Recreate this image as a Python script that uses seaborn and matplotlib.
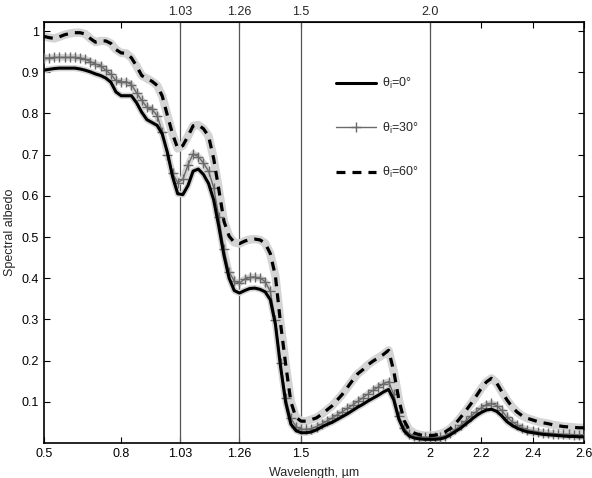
import numpy as np
import pandas as pd
import seaborn as sns
import matplotlib.pyplot as plt
from matplotlib.ticker import FormatStrFormatter

# wavelength grid, um (0.50 ... 2.60 every 0.02)
wavelength = np.round(np.linspace(0.5, 2.6, 106), 2)

albedo_0 = [
    0.905, 0.907, 0.909, 0.910, 0.910, 0.910, 0.910, 0.908, 0.905, 0.901,
    0.896, 0.892, 0.886, 0.876, 0.852, 0.843, 0.843, 0.843, 0.826, 0.803,
    0.785, 0.778, 0.771, 0.750, 0.705, 0.647, 0.605, 0.603, 0.625, 0.660,
    0.665, 0.652, 0.630, 0.590, 0.525, 0.455, 0.400, 0.370, 0.364, 0.370,
    0.375, 0.376, 0.373, 0.367, 0.348, 0.288, 0.185, 0.098, 0.046, 0.030,
    0.025, 0.025, 0.027, 0.032, 0.039, 0.045, 0.050, 0.057, 0.064, 0.071,
    0.079, 0.087, 0.094, 0.102, 0.109, 0.116, 0.124, 0.130, 0.105, 0.058,
    0.030, 0.017, 0.012, 0.010, 0.009, 0.009, 0.009, 0.010, 0.013, 0.020,
    0.028, 0.036, 0.046, 0.056, 0.066, 0.074, 0.080, 0.082, 0.077, 0.066,
    0.052, 0.043, 0.036, 0.031, 0.027, 0.025, 0.023, 0.021, 0.020, 0.019,
    0.018, 0.017, 0.016, 0.016, 0.015, 0.015,
]

albedo_30 = [
    0.934, 0.935, 0.936, 0.936, 0.936, 0.936, 0.936, 0.935, 0.932, 0.926,
    0.920, 0.916, 0.905, 0.895, 0.880, 0.876, 0.877, 0.870, 0.850, 0.832,
    0.815, 0.810, 0.795, 0.755, 0.700, 0.655, 0.632, 0.640, 0.675, 0.702,
    0.695, 0.680, 0.660, 0.620, 0.548, 0.470, 0.415, 0.393, 0.388, 0.398,
    0.402, 0.403, 0.400, 0.392, 0.368, 0.298, 0.195, 0.110, 0.060, 0.040,
    0.033, 0.033, 0.035, 0.040, 0.046, 0.053, 0.060, 0.068, 0.076, 0.084,
    0.092, 0.101, 0.110, 0.119, 0.128, 0.136, 0.144, 0.149, 0.118, 0.065,
    0.037, 0.023, 0.017, 0.015, 0.014, 0.014, 0.014, 0.015, 0.018, 0.025,
    0.033, 0.043, 0.054, 0.065, 0.075, 0.085, 0.093, 0.096, 0.091, 0.079,
    0.063, 0.052, 0.043, 0.037, 0.032, 0.030, 0.027, 0.025, 0.024, 0.023,
    0.022, 0.021, 0.021, 0.020, 0.020, 0.020,
]

albedo_60 = [
    0.987, 0.984, 0.982, 0.986, 0.991, 0.994, 0.996, 0.996, 0.993, 0.982,
    0.973, 0.976, 0.976, 0.970, 0.955, 0.947, 0.946, 0.935, 0.915, 0.892,
    0.885, 0.878, 0.868, 0.842, 0.795, 0.750, 0.715, 0.722, 0.745, 0.770,
    0.772, 0.763, 0.745, 0.690, 0.615, 0.538, 0.502, 0.487, 0.484, 0.490,
    0.494, 0.495, 0.493, 0.485, 0.460, 0.405, 0.290, 0.190, 0.100, 0.062,
    0.053, 0.053, 0.057, 0.061, 0.070, 0.080, 0.090, 0.104, 0.118, 0.135,
    0.152, 0.168, 0.178, 0.190, 0.199, 0.207, 0.215, 0.225, 0.175, 0.105,
    0.055, 0.032, 0.024, 0.020, 0.018, 0.018, 0.019, 0.022, 0.027, 0.035,
    0.047, 0.062, 0.078, 0.095, 0.113, 0.132, 0.148, 0.157, 0.146, 0.125,
    0.105, 0.088, 0.075, 0.066, 0.060, 0.056, 0.052, 0.049, 0.047, 0.044,
    0.042, 0.040, 0.039, 0.038, 0.037, 0.037,
]

labels = ['θ$_\\mathregular{i}$=0°', 'θ$_\\mathregular{i}$=30°', 'θ$_\\mathregular{i}$=60°']
bottom_ticks = [0.5, 0.8, 1.03, 1.26, 1.5, 2, 2.2, 2.4, 2.6]
marked_lines = [1.03, 1.26, 1.5, 2.0]
marked_labels = ['1.03', '1.26', '1.5', '2.0']
y_ticks = [0.1, 0.2, 0.3, 0.4, 0.5, 0.6, 0.7, 0.8, 0.9, 1.0]

df = pd.DataFrame({'wl': wavelength, 'a0': albedo_0, 'a30': albedo_30, 'a60': albedo_60})

sns.set_style('ticks')
plt.rcParams['font.family'] = ['Liberation Sans', 'DejaVu Sans']
plt.rcParams['mathtext.fontset'] = 'custom'
plt.rcParams['mathtext.rm'] = 'Liberation Sans'

fig = plt.figure(figsize=(5.92, 4.78), dpi=100)
ax = fig.add_axes([0.0743, 0.0732, 0.9122, 0.8808])

for x in marked_lines:
    ax.axvline(x, color='#555555', lw=0.9, zorder=1)

# grey uncertainty bands under the curves
for col, w in [('a0', 4.5), ('a30', 4.8), ('a60', 6.0)]:
    sns.lineplot(data=df, x='wl', y=col, ax=ax, color='#d4d4d4', lw=w,
                 solid_capstyle='round', zorder=2)

handles = []
sns.lineplot(data=df, x='wl', y='a0', ax=ax, color='black', lw=2.2, zorder=4)
handles.append(ax.lines[-1])
sns.lineplot(data=df, x='wl', y='a30', ax=ax, color='#6a6a6a', lw=1.0,
             marker='+', markersize=7, markeredgewidth=1.0,
             markeredgecolor='#6a6a6a', zorder=3)
handles.append(ax.lines[-1])
sns.lineplot(data=df, x='wl', y='a60', ax=ax, color='black', lw=2.3,
             linestyle=(0, (2.8, 2.2)), zorder=4)
handles.append(ax.lines[-1])

ax.legend(handles, labels, loc='center left', bbox_to_anchor=(0.54, 0.748),
          frameon=False, fontsize=9, handlelength=3.2, handletextpad=0.5,
          labelspacing=2.35, borderpad=0, borderaxespad=0)

ax.set_xlim(0.5, 2.6)
ax.set_ylim(0.0, 1.022)
ax.set_xticks(bottom_ticks)
ax.xaxis.set_major_formatter(FormatStrFormatter('%g'))
ax.set_yticks(y_ticks)
ax.yaxis.set_major_formatter(FormatStrFormatter('%g'))
ax.tick_params(direction='in', top=True, right=True, length=4, width=0.8,
               labelsize=9, colors='black')

top = ax.secondary_xaxis('top')
top.set_xticks(marked_lines)
top.set_xticklabels(marked_labels)
top.tick_params(length=0, labelsize=9, pad=3)

for s in ax.spines.values():
    s.set_linewidth(1.2)
    s.set_color('black')

ax.set_xlabel('Wavelength, µm', fontsize=9, labelpad=5)
ax.set_ylabel('Spectral albedo', fontsize=9, labelpad=4)

fig.savefig('out.png', dpi=100)
